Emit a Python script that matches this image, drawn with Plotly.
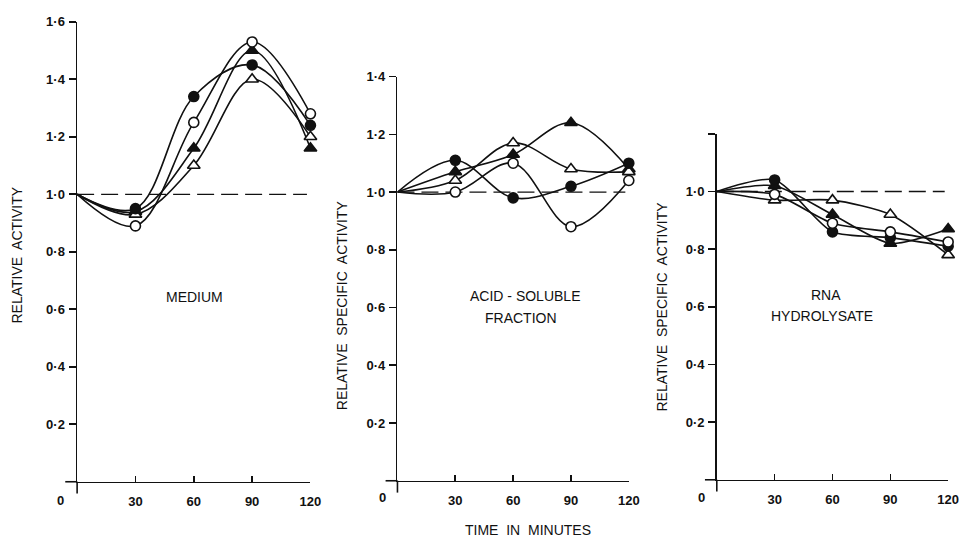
import plotly.graph_objects as go

# ---------------- data ----------------
TIME = [0, 30, 60, 90, 120]
X_TICKS = [30, 60, 90, 120]
X_TICK_LABELS = ["30", "60", "90", "120"]
BASELINE = 1.0

# Panel 1: medium (relative activity)
MED_OPEN_CIRCLE = [1.0, 0.89, 1.25, 1.53, 1.28]
MED_FILLED_CIRCLE = [1.0, 0.95, 1.34, 1.45, 1.24]
MED_FILLED_TRI = [1.0, 0.94, 1.16, 1.50, 1.16]
MED_OPEN_TRI = [1.0, 0.93, 1.10, 1.40, 1.20]

# Panel 2: acid-soluble fraction (relative specific activity)
ACID_OPEN_CIRCLE = [1.0, 1.00, 1.10, 0.88, 1.04]
ACID_FILLED_CIRCLE = [1.0, 1.11, 0.98, 1.02, 1.10]
ACID_FILLED_TRI = [1.0, 1.07, 1.13, 1.24, 1.08]
ACID_OPEN_TRI = [1.0, 1.04, 1.17, 1.08, 1.07]

# Panel 3: RNA hydrolysate (relative specific activity)
RNA_OPEN_CIRCLE = [1.0, 0.99, 0.89, 0.86, 0.825]
RNA_FILLED_CIRCLE = [1.0, 1.04, 0.86, 0.84, 0.81]
RNA_FILLED_TRI = [1.0, 1.02, 0.92, 0.82, 0.87]
RNA_OPEN_TRI = [1.0, 0.97, 0.97, 0.92, 0.78]

Y_TICKS_1 = [0.2, 0.4, 0.6, 0.8, 1.0, 1.2, 1.4, 1.6]
Y_LABELS_1 = ["0·2", "0·4", "0·6", "0·8", "1·0", "1·2", "1·4", "1·6"]
Y_TICKS_2 = [0.2, 0.4, 0.6, 0.8, 1.0, 1.2, 1.4]
Y_LABELS_2 = ["0·2", "0·4", "0·6", "0·8", "1·0", "1·2", "1·4"]
Y_TICKS_3 = [0.2, 0.4, 0.6, 0.8, 1.0, 1.2]
Y_LABELS_3 = ["0·2", "0·4", "0·6", "0·8", "1·0", ""]

# ---------------- style ----------------
W, H = 973, 539
INK = "#111111"
FONT = "Liberation Sans, Arial, sans-serif"
TICK_SIZE = 13

STYLES = {
    "filled_tri": dict(symbol="triangle-up", color=INK, size=11),
    "open_tri": dict(symbol="triangle-up", color="white", size=11),
    "filled_circle": dict(symbol="circle", color=INK, size=10),
    "open_circle": dict(symbol="circle", color="white", size=10),
}

panels = [
    dict(series={"filled_tri": MED_FILLED_TRI, "open_tri": MED_OPEN_TRI,
                 "filled_circle": MED_FILLED_CIRCLE, "open_circle": MED_OPEN_CIRCLE},
         px=(78, 314), py=(481, 15), yr=1.6, yt=Y_TICKS_1, yl=Y_LABELS_1, smooth=1.0),
    dict(series={"filled_tri": ACID_FILLED_TRI, "open_tri": ACID_OPEN_TRI,
                 "filled_circle": ACID_FILLED_CIRCLE, "open_circle": ACID_OPEN_CIRCLE},
         px=(402, 636), py=(480, 70.5), yr=1.4, yt=Y_TICKS_2, yl=Y_LABELS_2, smooth=1.0),
    dict(series={"filled_tri": RNA_FILLED_TRI, "open_tri": RNA_OPEN_TRI,
                 "filled_circle": RNA_FILLED_CIRCLE, "open_circle": RNA_OPEN_CIRCLE},
         px=(725, 959), py=(479, 128.5), yr=1.2, yt=Y_TICKS_3, yl=Y_LABELS_3, smooth=0.7),
]

fig = go.Figure()
shapes = []
layout = {}

for i, p in enumerate(panels, start=1):
    xa = "x" if i == 1 else f"x{i}"
    ya = "y" if i == 1 else f"y{i}"
    # lines first
    for key, vals in p["series"].items():
        fig.add_trace(go.Scatter(
            x=TIME, y=vals, mode="lines", xaxis=xa, yaxis=ya,
            line=dict(color=INK, width=1.6, shape="spline", smoothing=p["smooth"]),
            cliponaxis=False, hoverinfo="skip", showlegend=False))
    # markers on top
    for key, vals in p["series"].items():
        st = STYLES[key]
        fig.add_trace(go.Scatter(
            x=TIME[1:], y=vals[1:], mode="markers", xaxis=xa, yaxis=ya,
            marker=dict(symbol=st["symbol"], size=st["size"], color=st["color"],
                        line=dict(color=INK, width=1.6)),
            cliponaxis=False, showlegend=False))

    x0p, x1p = p["px"]
    y0p, y1p = p["py"]
    wpx = x1p - x0p
    hpx = y0p - y1p
    xkey = "xaxis" if i == 1 else f"xaxis{i}"
    ykey = "yaxis" if i == 1 else f"yaxis{i}"
    layout[xkey] = dict(
        domain=[x0p / W, x1p / W], range=[0, 120], anchor=ya,
        showline=True, linecolor=INK, linewidth=1.6, mirror=False,
        showgrid=False, zeroline=False,
        tickmode="array", tickvals=X_TICKS, ticktext=X_TICK_LABELS,
        ticks="inside", ticklen=6, tickwidth=1.6, tickcolor=INK,
        ticklabelstandoff=7,
        tickfont=dict(family=FONT, size=TICK_SIZE, color=INK, weight="bold"),
    )
    layout[ykey] = dict(
        domain=[1 - y0p / H, 1 - y1p / H], range=[0, p["yr"]], anchor=xa,
        showline=True, linecolor=INK, linewidth=1.6,
        showgrid=False, zeroline=False,
        tickmode="array", tickvals=p["yt"], ticktext=p["yl"],
        ticks="outside", ticklen=7, tickwidth=1.6, tickcolor=INK,
        ticklabelstandoff=1,
        tickfont=dict(family=FONT, size=TICK_SIZE, color=INK, weight="bold"),
    )
    # small overshoot of axes beyond the origin
    shapes.append(dict(type="line", xref=f"{xa} domain", yref=f"{ya} domain",
                       x0=-12 / wpx, x1=0, y0=0, y1=0,
                       line=dict(color=INK, width=1.6)))
    shapes.append(dict(type="line", xref=f"{xa} domain", yref=f"{ya} domain",
                       x0=0, x1=0, y0=-12 / hpx, y1=0,
                       line=dict(color=INK, width=1.6)))
    # dashed baseline at relative activity 1.0
    shapes.append(dict(type="line", xref=f"{xa} domain", yref=ya,
                       x0=0, x1=0.985, y0=BASELINE, y1=BASELINE,
                       line=dict(color=INK, width=1.3, dash="17px,7px"), layer="below"))


def pa(text, xpx, ypx, size=14, angle=0, bold=False):
    return dict(text=text, x=xpx / W, y=1 - ypx / H, xref="paper", yref="paper",
                showarrow=False, textangle=angle, xanchor="center", yanchor="middle",
                font=dict(family=FONT, size=size, color=INK,
                          weight="bold" if bold else "normal"))


annotations = [
    pa("RELATIVE  ACTIVITY", 17, 251, angle=-90),
    pa("RELATIVE  SPECIFIC  ACTIVITY", 346, 302, angle=-90),
    pa("RELATIVE  SPECIFIC  ACTIVITY", 670, 303, angle=-90),
    pa("MEDIUM", 197, 294),
    pa("ACID - SOLUBLE", 531, 293),
    pa("FRACTION", 527, 315),
    pa("RNA", 835, 292),
    pa("HYDROLYSATE", 831, 313),
    pa("TIME  IN  MINUTES", 534, 530),
    pa("0", 61, 500, size=TICK_SIZE, bold=True),
    pa("0", 387, 497, size=TICK_SIZE, bold=True),
    pa("0", 710, 497, size=TICK_SIZE, bold=True),
]

fig.update_layout(
    width=W, height=H,
    margin=dict(l=0, r=0, t=0, b=0),
    paper_bgcolor="white", plot_bgcolor="rgba(0,0,0,0)",
    showlegend=False,
    shapes=shapes, annotations=annotations,
    **layout,
)

fig.write_html(
    "out.html",
    config={"displayModeBar": False, "staticPlot": True},
    post_script="document.body.style.margin='0px';document.body.style.overflow='hidden';",
)
